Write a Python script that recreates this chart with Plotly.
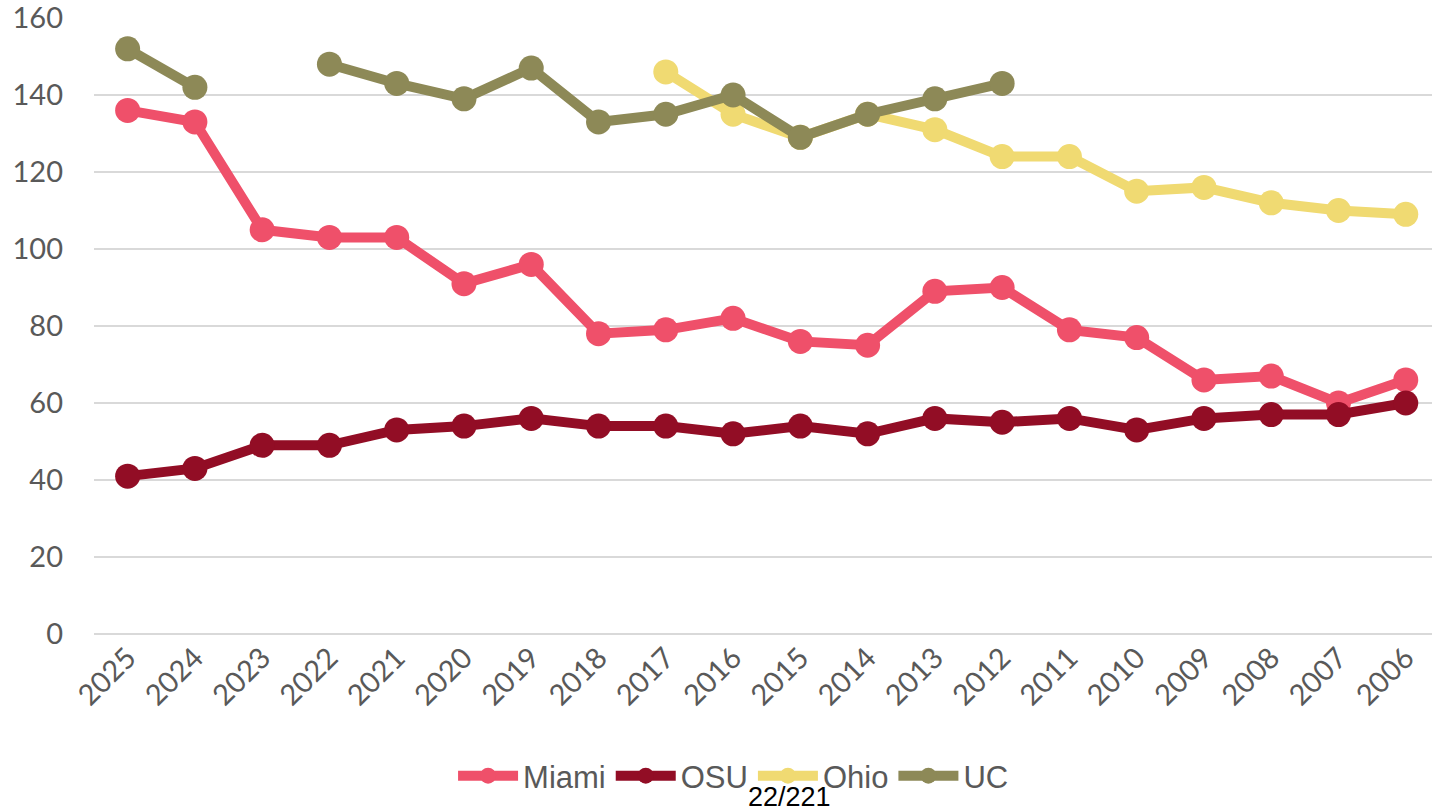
import plotly.graph_objects as go

# ── Data ──────────────────────────────────────────────────────────
YEARS = [str(y) for y in range(2025, 2005, -1)]

MIAMI = [136, 133, 105, 103, 103, 91, 96, 78, 79, 82,
         76, 75, 89, 90, 79, 77, 66, 67, 60, 66]
OSU   = [41, 43, 49, 49, 53, 54, 56, 54, 54, 52,
         54, 52, 56, 55, 56, 53, 56, 57, 57, 60]
OHIO  = [None, None, None, None, None, None, None, None, 146, 135,
         129, 135, 131, 124, 124, 115, 116, 112, 110, 109]
UC    = [152, 142, None, 148, 143, 139, 147, 133, 135, 140,
         129, 135, 139, 143, None, None, None, None, None, None]

SERIES = [
    ("Miami", MIAMI, "#EF506A"),
    ("OSU",   OSU,   "#920D25"),
    ("Ohio",  OHIO,  "#F0DA72"),
    ("UC",    UC,    "#8D8957"),
]

TICK_FONT = dict(family="Lato, Open Sans, sans-serif", color="#595959", size=29)

fig = go.Figure()
for name, vals, color in SERIES:
    fig.add_trace(go.Scatter(
        x=YEARS, y=vals, name=name,
        mode="lines+markers",
        connectgaps=False,
        line=dict(color=color, width=10),
        marker=dict(color=color, size=25),
    ))

fig.update_layout(
    width=1432, height=811,
    paper_bgcolor="white",
    plot_bgcolor="white",
    margin=dict(l=94, r=0, t=18, b=177),
    showlegend=True,
    legend=dict(
        orientation="h",
        x=0.478, xref="paper", xanchor="center",
        y=-0.2305, yanchor="middle",
        font=dict(family="Liberation Sans, Arial, sans-serif",
                  color="#595959", size=31),
        itemwidth=60,
        tracegroupgap=0,
    ),
    annotations=[dict(
        text="22/221", x=0.52, xref="paper", xanchor="center",
        y=-0.2646, yref="paper", yanchor="middle",
        showarrow=False,
        font=dict(family="Liberation Sans, Arial, sans-serif", color="black", size=27),
    )],
)

fig.update_xaxes(
    type="category",
    range=[-0.5, 19.39],
    tickangle=-45,
    tickfont=TICK_FONT,
    showgrid=False,
    showline=False,
    ticks="",
)
fig.update_yaxes(
    range=[0, 160],
    dtick=20,
    tickfont=TICK_FONT,
    ticklabeloverflow="allow",
    gridcolor="#D9D9D9",
    gridwidth=2,
    zeroline=True,
    zerolinecolor="#D9D9D9",
    zerolinewidth=2,
    ticklabelstandoff=30,
    showline=False,
)

fig.write_html("out.html", config=dict(displayModeBar=False),
               post_script="document.body.style.margin='0';")
